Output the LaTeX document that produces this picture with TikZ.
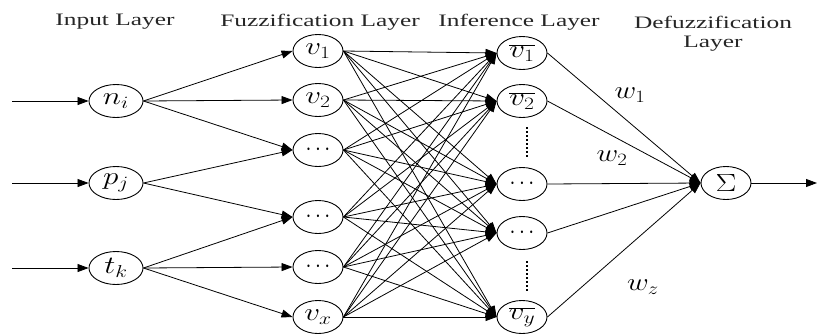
\documentclass[tikz,border=0pt]{standalone}
\usepackage{fontspec}
\setmainfont{Liberation Serif}
\usetikzlibrary{shapes.geometric,arrows.meta}
\newcommand{\hx}[1]{\scalebox{1.45}[1]{#1}}
\newcommand{\mx}[1]{\scalebox{1.25}[1]{$#1$}}
\newcommand{\dotsx}{\scalebox{0.85}[1]{$\cdots$}}
\begin{document}
\begin{tikzpicture}[x=1pt,y=-1pt,
  neuron/.style={ellipse,draw,line width=0.9pt,minimum width=50pt,minimum height=33pt,inner sep=0pt,font=\fontsize{23}{26}\selectfont},
  conn/.style={line width=0.8pt,-{Triangle[length=11pt,width=8pt]}},
  title/.style={font=\fontsize{17.5}{20}\selectfont,text=black!85,inner sep=0pt},
  wlab/.style={font=\fontsize{25}{28}\selectfont,inner sep=0pt},
  vdots/.style={line width=2.4pt,dash pattern=on 1.6pt off 2.4pt}]
\useasboundingbox (0,0) rectangle (817,333);
% titles
\node[title] (t1) at (115,22) {\hx{Input Layer}};
\node[title] (t2) at (320,22) {\hx{Fuzzification Layer}};
\node[title] (t3) at (519,22) {\hx{Inference Layer}};
\node[title] (t4) at (713,22) {\hx{Defuzzification}};
\node[title] (t5) at (713,44) {\hx{Layer}};
% input layer
\node[neuron,minimum width=54pt] (ni) at (116,101) {\mx{n_i}};
\node[neuron,minimum width=54pt] (pj) at (116,183) {\mx{p_j}};
\node[neuron,minimum width=54pt] (tk) at (116,268) {\mx{t_k}};
% fuzzification layer
\node[neuron] (f1) at (318,51) {\mx{v_1}};
\node[neuron] (f2) at (318,100) {\mx{v_2}};
\node[neuron] (f3) at (318,150) {\dotsx};
\node[neuron] (f4) at (318,217) {\dotsx};
\node[neuron] (f5) at (318,267) {\dotsx};
\node[neuron] (f6) at (318,317) {\mx{v_x}};
% inference layer
\node[neuron] (h1) at (522,53) {\mx{\overline{v_1}}};
\node[neuron] (h2) at (522,101) {\mx{\overline{v_2}}};
\node[neuron] (h3) at (522,184) {\dotsx};
\node[neuron] (h4) at (522,233) {\dotsx};
\node[neuron] (h5) at (522,317) {\mx{\overline{v_y}}};
% defuzzification
\node[neuron] (sum) at (726,183) {\mx{\Sigma}};
% inputs / output
\coordinate (in1) at (12,101);
\coordinate (in2) at (12,183);
\coordinate (in3) at (12,268);
\coordinate (out) at (817,183);
\draw[conn] (in1) -- (ni.west);
\draw[conn] (in2) -- (pj.west);
\draw[conn] (in3) -- (tk.west);
\draw[conn] (sum.east) -- (out);
% input -> fuzzification
\foreach \b in {f1,f2,f3} \draw[conn] (ni.east) -- (\b.west);
\foreach \b in {f3,f4} \draw[conn] (pj.east) -- (\b.west);
\foreach \b in {f4,f5,f6} \draw[conn] (tk.east) -- (\b.west);
% fuzzification -> inference
\foreach \a in {f1,f2,f3,f4,f5,f6}
  \foreach \b in {h1,h2,h3,h4,h5}
    \draw[conn] (\a.east) -- (\b.west);
% inference -> sum
\foreach \a in {h1,h2,h3,h4,h5} \draw[conn] (\a.east) -- (sum.west);
% vertical dots
\coordinate (d1a) at (527,127);
\coordinate (d1b) at (527,157);
\coordinate (d2a) at (527,261);
\coordinate (d2b) at (527,291);
\draw[vdots] (d1a) -- (d1b);
\draw[vdots] (d2a) -- (d2b);
% weights
\node[wlab] (w1) at (630,95) {\scalebox{1.2}[1]{$w_1$}};
\node[wlab] (w2) at (612,158) {\scalebox{1.2}[1]{$w_2$}};
\node[wlab] (wz) at (643,287) {\scalebox{1.2}[1]{$w_z$}};
\end{tikzpicture}
\end{document}
